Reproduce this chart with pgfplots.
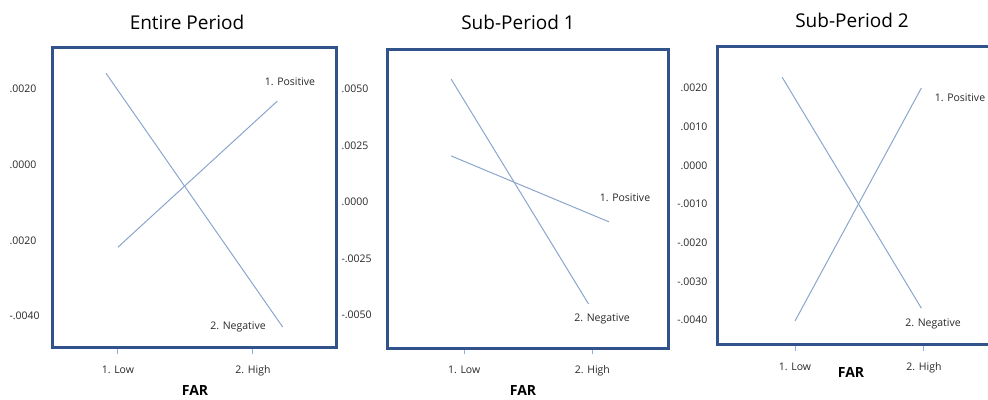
\documentclass[border=0pt]{standalone}
\usepackage{pgfplots}
\pgfplotsset{compat=1.18}
\usepackage{fontspec}
\setmainfont{Open Sans}
\definecolor{frame}{RGB}{50,82,140}
\definecolor{ln}{RGB}{140,165,205}
\definecolor{tk}{RGB}{140,175,215}
\definecolor{txt}{RGB}{40,40,40}
\pgfplotsset{
 panel/.style={scale only axis,
   axis line style={frame, line width=3pt},
   xtick={1,2}, xticklabels={1. Low, 2. High},
   tick align=outside, major tick length=6pt,
   xtick pos=bottom, ytick pos=left,
   xtick style={tk, line width=1pt}, ytick style={draw=none},
   scaled y ticks=false,
   ticklabel style={font=\fontsize{10.5}{12}\selectfont, text=txt},
   xticklabel style={yshift=-8pt},
   /pgf/number format/assume math mode=true,
 },
 ser/.style={ln, line width=1pt, mark=none},
}
\begin{document}
\begin{tikzpicture}
\useasboundingbox (0,0) rectangle (988pt,399pt);
\clip (0,0) rectangle (988pt,399pt);
% Panel 1
\begin{axis}[panel, at={(53pt,51pt)}, anchor=south west,
  width=283pt, height=300pt,
  xmin=0.519, xmax=2.615, ymin=-0.004845, ymax=0.003085,
  ytick={-0.004,-0.002,0,0.002}, yticklabels={-.0040,.0020,.0000,.0020},
  yticklabel style={anchor=west, xshift=-41pt}]
\addplot[ser] coordinates {(1.0,-0.00218) (2.18,0.00168)};
\addplot[ser] coordinates {(0.911,0.00242) (2.22,-0.00429)};
\end{axis}
% Panel 2
\begin{axis}[panel, at={(387pt,51pt)}, anchor=south west,
  width=281pt, height=299pt,
  xmin=0.398, xmax=2.59, ymin=-0.00646, ymax=0.00677,
  ytick={-0.005,-0.0025,0,0.0025,0.005}, yticklabels={-.0050,-.0025,.0000,.0025,.0050},
  yticklabel style={anchor=west, xshift=-43pt}]
\addplot[ser] coordinates {(0.898,0.00204) (2.13,-0.00088)};
\addplot[ser] coordinates {(0.898,0.00544) (1.97,-0.00451)};
\end{axis}
% Panel 3
\begin{axis}[panel, at={(717pt,54pt)}, anchor=south west,
  width=283pt, height=298pt,
  xmin=0.395, xmax=2.59, ymin=-0.00464, ymax=0.00306,
  ytick={-0.004,-0.003,-0.002,-0.001,0,0.001,0.002},
  yticklabels={-.0040,-.0030,-.0020,-.0010,.0000,.0010,.0020}]
\addplot[ser] coordinates {(1.0,-0.00402) (1.98,0.0020)};
\addplot[ser] coordinates {(0.90,0.00228) (1.98,-0.00369)};
\end{axis}
% titles and labels
\begin{scope}[every node/.style={text=txt}]
\node[font=\fontsize{19}{22}\selectfont, text=black] at (187pt,377pt) {Entire Period};
\node[font=\fontsize{19}{22}\selectfont, text=black] at (518pt,377pt) {Sub-Period 1};
\node[font=\fontsize{19}{22}\selectfont, text=black] at (852pt,379pt) {Sub-Period 2};
\node[font=\bfseries\fontsize{14}{16}\selectfont, text=black] at (195pt,9pt) {FAR};
\node[font=\bfseries\fontsize{14}{16}\selectfont, text=black] at (523pt,9pt) {FAR};
\node[font=\bfseries\fontsize{14}{16}\selectfont, text=black] at (851pt,27pt) {FAR};
\node[font=\fontsize{10.5}{12}\selectfont] at (290pt,317pt) {1. Positive};
\node[font=\fontsize{10.5}{12}\selectfont] at (238pt,72pt) {2. Negative};
\node[font=\fontsize{10.5}{12}\selectfont] at (625pt,201pt) {1. Positive};
\node[font=\fontsize{10.5}{12}\selectfont] at (602pt,80pt) {2. Negative};
\node[font=\fontsize{10.5}{12}\selectfont] at (960pt,301pt) {1. Positive};
\node[font=\fontsize{10.5}{12}\selectfont] at (933pt,75pt) {2. Negative};
\end{scope}
\end{tikzpicture}
\end{document}
